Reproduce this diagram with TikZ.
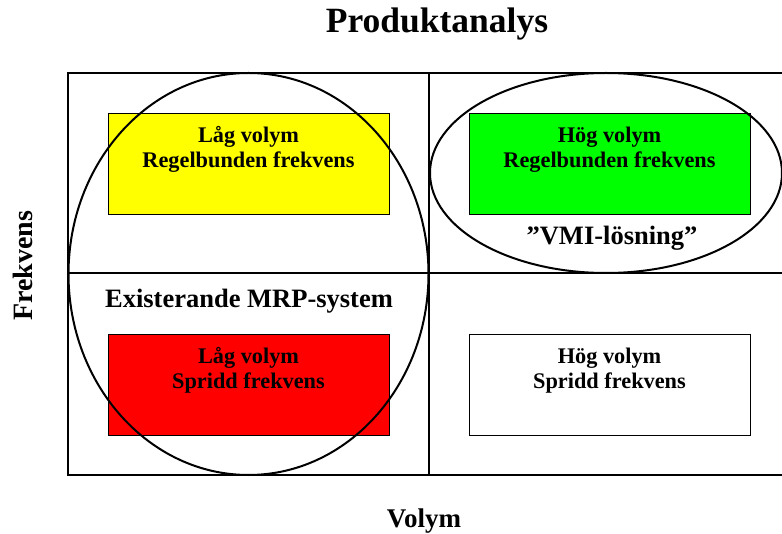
\documentclass[tikz,border=0pt]{standalone}
\usepackage{fontspec}
\setmainfont{Liberation Serif}
\begin{document}
\begin{tikzpicture}[x=1pt,y=-1pt,
  frame/.style={line width=2pt},
  cell/.style={draw=black,line width=1.2pt,minimum width=281pt,minimum height=101pt,anchor=north west,inner sep=0pt},
  boxtxt/.style={anchor=base,font=\bfseries\fontsize{22.3}{25}\selectfont,inner sep=0pt},
  bigtxt/.style={anchor=base,font=\bfseries\fontsize{26.5}{30}\selectfont,inner sep=0pt},
  ring/.style={line width=2pt}]
\useasboundingbox (0,0) rectangle (782,534);
\fill[white] (0,0) rectangle (782,534);
% frame
\coordinate (tl) at (68,73);
\coordinate (tr) at (800,73);
\coordinate (bl) at (68,475);
\coordinate (br) at (800,475);
\coordinate (mt) at (429,73);
\coordinate (mb) at (429,475);
\coordinate (ml) at (68,273);
\coordinate (mr) at (800,273);
\draw[frame] (tr) -- (tl) -- (bl) -- (br);
\draw[frame] (mt) -- (mb);
\draw[frame] (ml) -- (mr);
% boxes
\node[cell,fill={rgb,255:red,255;green,255;blue,0}] (yb) at (108,113) {};
\node[cell,fill=red] (rb) at (108,334) {};
\node[cell,fill={rgb,255:red,0;green,255;blue,0}] (gb) at (469,113) {};
\node[cell,fill=white] (wb) at (469,334) {};
\node[boxtxt] (y1) at (248.5,143) {Låg volym};
\node[boxtxt] (y2) at (248.5,168) {Regelbunden frekvens};
\node[boxtxt] (r1) at (248.5,364) {Låg volym};
\node[boxtxt] (r2) at (248.5,389) {Spridd frekvens};
\node[boxtxt] (g1) at (609.5,143) {Hög volym};
\node[boxtxt] (g2) at (609.5,168) {Regelbunden frekvens};
\node[boxtxt] (w1) at (609.5,364) {Hög volym};
\node[boxtxt] (w2) at (609.5,389) {Spridd frekvens};
% ellipses
\draw[ring] (248.5,274) ellipse [x radius=180, y radius=201];
\draw[ring] (606,173) ellipse [x radius=176, y radius=100];
% labels
\node[bigtxt] (mrp) at (249,308) {Existerande MRP-system};
\node[bigtxt] (vmi) at (612,245) {”VMI-lösning”};
\node[anchor=base,font=\bfseries\fontsize{35.5}{40}\selectfont,inner sep=0pt] (title) at (437,33) {Produktanalys};
\node[anchor=base,font=\bfseries\fontsize{27}{30}\selectfont,inner sep=0pt] (vol) at (424,527) {Volym};
\node[anchor=base,font=\bfseries\fontsize{28}{30}\selectfont,inner sep=0pt,rotate=90] (frek) at (32,266) {Frekvens};
\end{tikzpicture}
\end{document}
